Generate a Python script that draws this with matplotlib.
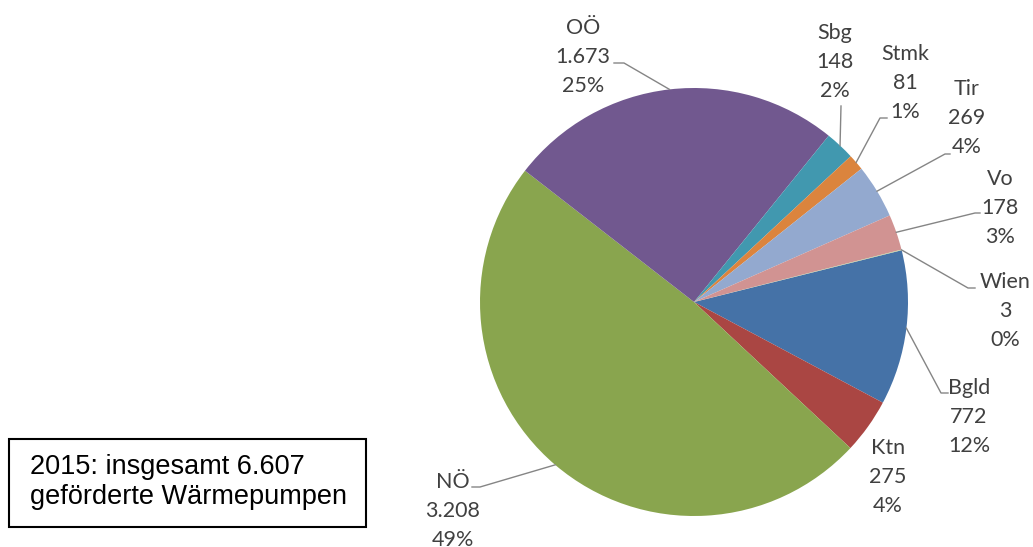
import numpy as np
import matplotlib.pyplot as plt
from matplotlib.patches import Rectangle

W, H = 1033, 547

regions = ["Bgld", "Ktn", "NÖ", "OÖ", "Sbg", "Stmk", "Tir", "Vo", "Wien"]
counts = [772, 275, 3208, 1673, 148, 81, 269, 178, 3]
colors = ["#4572A7", "#AA4643", "#89A54E", "#71588F", "#4198AF",
          "#DB843D", "#93A9CF", "#D19392", "#B9CD96"]

# label centres in pixels (x from left, y from top)
label_xy = {
    "Bgld": (969, 417), "Ktn": (888, 477), "NÖ": (453, 511),
    "OÖ": (583, 57), "Sbg": (835, 62), "Stmk": (905, 83),
    "Tir": (967, 118), "Vo": (1000, 208), "Wien": (1005, 311),
}
# leader start (next to the text) and end of the short hook
leaders = {
    "Bgld": ((948, 393), (941, 393)), "NÖ": ((472, 487), (480, 487)),
    "OÖ": ((614, 63), (624, 63)), "Sbg": ((841, 106), (841, 106)),
    "Stmk": ((887, 118), (880, 118)), "Tir": ((950, 154), (945, 154)),
    "Vo": ((980, 213), (975, 213)), "Wien": ((975, 288), (968, 288)),
}

fig = plt.figure(figsize=(W / 100, H / 100), dpi=100)
ax = fig.add_axes([0, 0, 1, 1])

cx, cy, r = 694, 302, 214
wedges, _ = ax.pie(counts, colors=colors, startangle=14, counterclock=False,
                   center=(cx, H - cy), radius=r,
                   wedgeprops=dict(linewidth=0))
ax.set_xlim(0, W)
ax.set_ylim(0, H)
ax.set_aspect("equal")
ax.axis("off")

total = sum(counts)
for name, val, w in zip(regions, counts, wedges):
    txt = f"{name}\n{val:,}".replace(",", ".") + f"\n{100 * val / total:.0f}%"
    x, y = label_xy[name]
    ax.text(x, H - y, txt, ha="center", va="center", fontsize=15.5,
            family="Lato", color="#404040", linespacing=1.55)
    if name in leaders:
        th = np.deg2rad((w.theta1 + w.theta2) / 2)
        px, py = cx + r * np.cos(th), H - cy + r * np.sin(th)
        (sx, sy), (hx, hy) = leaders[name]
        ax.plot([sx, hx, px], [H - sy, H - hy, py], color="#858585", lw=1.0)

# info box
ax.add_patch(Rectangle((9, H - 527), 357, 88, fill=False, edgecolor="black", lw=1.5))
ax.text(30, H - 482, "2015: insgesamt 6.607\ngeförderte Wärmepumpen",
        ha="left", va="center", fontsize=19.5, family="Liberation Sans",
        color="black", linespacing=1.18)

fig.savefig("out.png", dpi=100)
